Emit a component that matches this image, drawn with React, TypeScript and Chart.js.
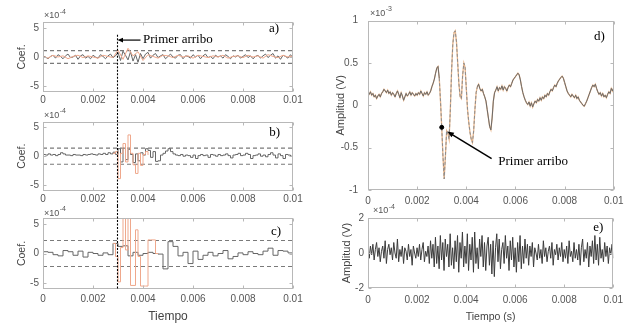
import React, { useEffect, useRef } from "react";
import { Chart, registerables } from "chart.js";
Chart.register(...registerables);

const SANS = '"Liberation Sans", Arial, sans-serif';
const SERIF = '"Liberation Serif", "Times New Roman", serif';
const TICK_COLOR = "#555555";
const BOX_COLOR = "#b8b8b8";
const ORANGE = "#efa88c";
const DARK = "#666666";
const THRESH_COLOR = "#7a7a7a";

const T_END = 0.01;
const X_TICKS = [0, 0.002, 0.004, 0.006, 0.008, 0.01];
const COEF_TICKS = [-5, 0, 5];
const AMP_D_TICKS = [-1, -0.5, 0, 0.5, 1];
const AMP_E_TICKS = [-2, 0, 2];
const ARRIVAL_T = 0.00294;
const ARRIVAL_LABEL = "Primer arribo";

// a) coefficients (x1e-4)
const A_DT = 0.0001;
const A_BLACK = [0.2, 0.0, -0.3, 0.1, 0.3, -0.2, 0.4, 0.1, -0.3, 0.2, 0.5, -0.1, 0.0, 0.3, -0.4, 0.2, 0.4, -0.2, 0.1, -0.3, 0.3, 0.0, -0.2, 0.4, 0.1, -0.3, 0.2, 0.5, -0.1, 0.2, 0.8, -0.6, 1.0, 0.3, -0.5, 0.9, -0.7, 0.4, -0.9, 0.6, -0.3, 0.5, 0.8, -0.2, 0.3, 0.6, -0.1, 0.2, 0.4, -0.3, 0.1, 0.5, 0.0, -0.2, 0.3, 0.4, -0.3, 0.2, 0.1, -0.2, 0.4, 0.0, 0.3, -0.3, 0.2, 0.5, -0.1, 0.1, -0.3, 0.3, 0.0, 0.2, -0.2, 0.4, 0.1, -0.3, 0.2, 0.0, 0.3, -0.2, 0.1, 0.4, -0.1, 0.2, -0.3, 0.1, 0.3, -0.2, 0.2, 0.5, -0.1, 0.3, 0.6, -0.2, 0.2, -0.4, 0.3, 0.1, -0.2, 0.4, -0.1];
const A_ORANGE_DT = 0.0002;
const A_ORANGE = [0.1, -0.2, 0.3, 0.0, 0.2, -0.3, 0.1, 0.3, -0.1, 0.2, 0.0, -0.2, 0.3, 0.1, -0.1, 1.2, -0.4, 1.5, 0.2, 0.9, -0.6, 0.4, 0.1, -0.2, 0.3, 0.2, -0.1, 0.3, 0.0, 0.2, -0.2, 0.3, 0.1, -0.1, 0.2, 0.0, 0.3, -0.2, 0.1, 0.2, -0.1, 0.3, 0.0, 0.2, -0.2, 0.4, 0.1, -0.1, 0.3, 0.0, 0.2];
const A_THRESHOLD = 1.1;

// b) coefficients (x1e-4)
const B_DT = 0.0001;
const B_BLACK = [0.3, 0.2, 0.4, 0.2, 0.3, 0.1, 0.3, 0.6, 0.4, 0.2, 0.2, 0.1, 0.3, 0.2, 0.2, 0.1, 0.3, 0.2, 0.3, 0.4, 0.3, 0.2, 0.4, 0.3, 0.5, 0.3, 0.6, 0.4, 0.7, 0.3, 1.3, -1.0, 1.4, -0.6, 1.2, 0.3, -1.1, 0.4, -0.8, 0.6, 0.2, 1.3, 1.0, -0.2, 0.8, -0.9, -0.8, 0.2, 0.5, 0.9, 1.3, 0.8, 0.4, 0.2, 0.1, 0.3, 0.0, 0.2, 0.1, -0.2, 0.2, -0.4, 0.1, 0.3, 0.1, 0.2, -0.2, 0.3, 0.2, 0.0, 0.3, 0.1, 0.2, 0.4, 0.1, -0.3, 0.2, 0.3, 0.5, 0.1, 0.2, 0.5, 0.3, -0.4, 0.1, 0.2, 0.4, 0.0, 0.2, -0.1, 0.3, 0.6, 0.2, -0.3, 0.4, 0.1, -0.4, 0.3, 0.2, 0.0, 0.2];
const B_BURST_START = 0.0028;
const B_BURST_DT = 0.0001;
const B_ORANGE = [0.5, 0.8, -3.9, 0.5, 2.2, -1.0, 3.7, 0.5, -1.5, -3.0, 0.5, -1.6, 0.3, 0.8, 0.2];
const B_THRESHOLD = 1.4;

// c) coefficients (x1e-4)
const C_DT = 0.0002;
const C_BLACK = [0.3, 0.2, -0.2, -0.4, 0.5, 0.3, -0.3, 0.4, -0.6, 0.2, 0.0, -0.3, 0.1, -0.2, 1.7, 1.2, 1.3, -0.4, 0.2, -0.3, 0.0, 0.2, 0.0, -0.1, -2.6, 2.0, 1.2, -0.4, 0.2, -1.7, 0.4, -1.0, -0.3, 0.2, -0.4, 0.0, 0.5, -0.9, -0.5, 0.1, -0.2, 0.3, 0.0, -0.2, 0.4, 0.9, -0.3, 0.5, 0.4, 0.1, 0.0];
const C_BURST_START = 0.0028;
const C_BURST_DT = 0.0001;
const C_ORANGE = [1.7, -0.5, -4.8, 1.0, 6.5, 0.6, 6.5, -5.4, -5.4, 4.0, -0.5, -5.5, -5.5, -5.5, 2.3, 2.3, 2.3, 0.0, -0.1];
const C_THRESHOLD = 2.2;

// d) recorded signal (x1e-3 V)
const D_DT = 0.00005;
const D_SIGNAL = [
  0.15, 0.13, 0.16, 0.12, 0.14, 0.10, 0.12, 0.08, 0.11, 0.13,
  0.10, 0.14, 0.16, 0.19, 0.17, 0.15, 0.18, 0.14, 0.16, 0.12,
  0.15, 0.13, 0.10, 0.14, 0.17, 0.13, 0.09, 0.15, 0.11, 0.06,
  0.10, 0.14, 0.11, 0.13, 0.16, 0.12, 0.15, 0.13, 0.11, 0.14,
  0.12, 0.15, 0.13, 0.17, 0.14, 0.11, 0.15, 0.13, 0.16, 0.12,
  0.14, 0.17, 0.22, 0.26, 0.31, 0.38, 0.44, 0.46, 0.32, 0.05,
  -0.26, -0.60, -0.87, -0.60, -0.30, -0.33, -0.40, -0.05, 0.40, 0.72,
  0.86, 0.88, 0.75, 0.50, 0.25, 0.10, 0.08, 0.35, 0.50, 0.45,
  0.20, -0.05, -0.20, -0.32, -0.40, -0.44, -0.30, -0.05, 0.15, 0.22,
  0.25, 0.20, 0.17, 0.19, 0.14, 0.10, 0.05, -0.05, -0.15, -0.25,
  -0.29, -0.15, 0.05, 0.15, 0.18, 0.22, 0.17, 0.21, 0.19, 0.23,
  0.18, 0.22, 0.20, 0.17, 0.21, 0.24, 0.22, 0.26, 0.30, 0.32,
  0.34, 0.36, 0.38, 0.36, 0.30, 0.22, 0.15, 0.10, 0.06, 0.03,
  0.01, 0.04, -0.01, 0.03, -0.02, 0.02, 0.05, 0.03, 0.07, 0.05,
  0.09, 0.06, 0.10, 0.08, 0.12, 0.10, 0.14, 0.12, 0.16, 0.19,
  0.17, 0.21, 0.24, 0.22, 0.26, 0.29, 0.31, 0.33, 0.345, 0.32,
  0.27, 0.22, 0.17, 0.14, 0.12, 0.10, 0.13, 0.11, 0.09, 0.12,
  0.08, 0.10, 0.06, 0.04, 0.02, 0.00, -0.01, 0.02, 0.05, 0.09,
  0.13, 0.17, 0.21, 0.24, 0.22, 0.25, 0.20, 0.16, 0.13, 0.15,
  0.11, 0.14, 0.10, 0.12, 0.09, 0.13, 0.16, 0.14, 0.20, 0.17,
  0.21,
];
const D_PICK = [{ x: 0.003, y: -0.26 }];
const D_BURST_FROM = 0.0029;
const D_BURST_TO = 0.0045;

// e) noise (x1e-4 V)
const E_DT = 0.00005;
const E_NOISE = [
  0.1, -0.3, 0.4, -0.1, 0.5, -0.4, 0.2, 0.6, -0.2, 0.3, -0.5, 0.1, 0.4, -0.3, 0.7, -0.6, 0.2, 0.5, -0.1, 0.3,
  -0.4, 0.6, 0.0, -0.3, 0.8, -0.5, 0.2, -0.2, 0.4, -0.6, 0.3, 0.1, -0.4, 0.5, -0.2, 0.2, -0.7, 0.4, 0.0, -0.3,
  0.3, -0.2, 0.5, -0.4, 0.2, 0.6, -0.5, 0.1, -0.2, 0.4, -0.6, 0.7, -0.3, 0.5, -0.8,
  0.9, -0.6, 0.4, -0.9, 1.0, -0.4, 0.6, -1.0, 0.8, -0.2, 0.5, -0.8, 1.1, -0.7, 0.3, -0.9, 0.7, -0.5, 1.0, -1.1, 0.6, -0.3, 1.2, -0.8, 0.4,
  -0.6, 1.1, -1.0, 0.5, -0.4, 0.9, -1.1, 1.2, -0.6, 0.3, -0.9, 0.8, -0.2, 1.0, -0.8, 0.6, -1.0, 0.4, 0.9, -0.7, 0.5, -1.2, 0.7, -1.35, 0.3,
  1.1, -0.5, 0.8, -0.9, 0.2, 0.6, -0.6, 1.0, -0.3, 0.4, -1.0, 0.7, -0.4, 0.9, -0.8, 0.3, -1.1, 0.6, -0.5, 1.0, -0.9, 0.4, -0.6, 0.8, -0.3, 0.5,
  -0.7, 0.4, -0.2, 0.6, -0.8, 0.3, 0.0, -0.4, 0.5, -0.3, 0.2, -0.6, 0.7, -0.2, 0.3, -0.5, 0.1, 0.4, -0.3, 0.6, -0.7, 0.2, -0.1, 0.5, -0.4, 0.3, -0.2, 0.6, -0.5, 0.2,
  -0.3, 0.4, -0.6, 0.7, -0.2, 0.1, -0.5, 0.6, -0.3, 0.2, -0.4, 0.5, -0.7, 0.3, 0.8, -0.5, 0.2, -0.3, 0.6, -0.8,
  0.4, -0.2, 0.7, -0.6, 1.0, -0.4, 0.5, -0.7, 0.9, -0.3, 0.2, -0.5, 0.6, -0.2, 0.4, -0.6, 0.3, -0.1, 0.5, -0.3,
];

const series = (vals: number[], t0: number, dt: number) => vals.map((y, i) => ({ x: t0 + i * dt, y }));
const hline = (y: number) => [{ x: 0, y }, { x: T_END, y }];
const fmtX = (v: any) => Number(v).toFixed(3).replace(/\.?0+$/, "");
const fmtY = (v: any) => String(Number(v));

const thresholdSets = (th: number) => [th, -th].map((y) => ({
  data: hline(y), borderColor: THRESH_COLOR, borderWidth: 1.2, borderDash: [4, 3], pointRadius: 0,
}));

function drawArrow(ctx: CanvasRenderingContext2D, x1: number, y1: number, x2: number, y2: number, head: number, lw: number) {
  const ang = Math.atan2(y2 - y1, x2 - x1);
  ctx.save();
  ctx.strokeStyle = "#000"; ctx.fillStyle = "#000"; ctx.lineWidth = lw; ctx.setLineDash([]);
  ctx.beginPath();
  ctx.moveTo(x1, y1);
  ctx.lineTo(x2 - Math.cos(ang) * head * 0.8, y2 - Math.sin(ang) * head * 0.8);
  ctx.stroke();
  ctx.beginPath();
  ctx.moveTo(x2, y2);
  ctx.lineTo(x2 - head * Math.cos(ang - 0.4), y2 - head * Math.sin(ang - 0.4));
  ctx.lineTo(x2 - head * Math.cos(ang + 0.4), y2 - head * Math.sin(ang + 0.4));
  ctx.closePath();
  ctx.fill();
  ctx.restore();
}

function arrivalLine(chart: any, yFrom: number, yTo: number) {
  const { ctx, scales } = chart;
  const x = Math.round(scales.x.getPixelForValue(ARRIVAL_T)) + 0.5;
  ctx.save();
  ctx.strokeStyle = "#000"; ctx.lineWidth = 1.1; ctx.setLineDash([2, 1.5]);
  ctx.beginPath(); ctx.moveTo(x, yFrom); ctx.lineTo(x, yTo); ctx.stroke();
  ctx.restore();
}

type Spec = {
  rect: { left: number; top: number; width: number; height: number };
  padTop: number; padRight: number; yWidth: number; xHeight: number;
  yMin: number; yMax: number; yTicks: number[]; yTickPad: number; xTickPad: number;
  yTitle: string; yTitleSize: number; yTitlePad: number;
  xTitle?: string; xTitleSize?: number; xTitlePad?: number;
  exponent: string; expDy: number; expDx: number;
  letter: string; letterDx: number; letterDy: number;
  datasets: any[];
  extra?: (chart: any) => void;
};

function buildConfig(p: Spec): any {
  const framePlugin = {
    id: "frame",
    afterDraw(chart: any) {
      const { ctx, chartArea: ca, scales } = chart;
      ctx.save();
      ctx.strokeStyle = BOX_COLOR; ctx.lineWidth = 1; ctx.setLineDash([]);
      const l = Math.round(ca.left) + 0.5, t = Math.round(ca.top) + 0.5;
      const r = Math.round(ca.right) - 0.5, b = Math.round(ca.bottom) - 0.5;
      ctx.strokeRect(l, t, r - l, b - t);
      ctx.beginPath();
      X_TICKS.forEach((v) => {
        const px = Math.round(scales.x.getPixelForValue(v)) + 0.5;
        ctx.moveTo(px, b); ctx.lineTo(px, b - 3);
        ctx.moveTo(px, t); ctx.lineTo(px, t + 3);
      });
      p.yTicks.forEach((v) => {
        const py = Math.round(scales.y.getPixelForValue(v)) + 0.5;
        ctx.moveTo(l, py); ctx.lineTo(l + 3, py);
        ctx.moveTo(r, py); ctx.lineTo(r - 3, py);
      });
      ctx.stroke();
      // exponent label
      ctx.fillStyle = TICK_COLOR; ctx.textBaseline = "middle"; ctx.textAlign = "left";
      ctx.font = `9px ${SANS}`;
      const ex = ca.left + p.expDx, ey = ca.top + p.expDy;
      ctx.fillText("\u00d710", ex, ey);
      const w = ctx.measureText("\u00d710").width;
      ctx.font = `7px ${SANS}`;
      ctx.fillText(p.exponent, ex + w + 0.5, ey - 4);
      // panel letter
      ctx.fillStyle = "#000"; ctx.font = `13px ${SERIF}`; ctx.textAlign = "right";
      ctx.fillText(p.letter, ca.right - p.letterDx, ca.top + p.letterDy);
      ctx.restore();
      if (p.extra) p.extra(chart);
    },
  };
  return {
    type: "line",
    data: { datasets: p.datasets },
    options: {
      animation: false, responsive: false, maintainAspectRatio: false, devicePixelRatio: 1,
      events: [],
      layout: { padding: { top: p.padTop, right: p.padRight, left: 0, bottom: 0 } },
      plugins: { legend: { display: false }, tooltip: { enabled: false }, title: { display: false } },
      elements: { point: { radius: 0 }, line: { tension: 0 } },
      scales: {
        x: {
          type: "linear", min: 0, max: T_END,
          afterBuildTicks: (s: any) => { s.ticks = X_TICKS.map((value) => ({ value })); },
          afterFit: (s: any) => { s.height = p.xHeight; },
          grid: { display: false, drawTicks: false, tickLength: 0 }, border: { display: false },
          ticks: { color: TICK_COLOR, font: { family: SANS, size: 10 }, padding: p.xTickPad, maxRotation: 0, autoSkip: false, callback: fmtX },
          title: p.xTitle
            ? { display: true, text: p.xTitle, color: "#444", font: { family: SANS, size: p.xTitleSize }, padding: { top: 0, bottom: p.xTitlePad } }
            : { display: false },
        },
        y: {
          type: "linear", min: p.yMin, max: p.yMax,
          afterBuildTicks: (s: any) => { s.ticks = p.yTicks.map((value) => ({ value })); },
          afterFit: (s: any) => { s.width = p.yWidth; },
          grid: { display: false, drawTicks: false, tickLength: 0 }, border: { display: false },
          ticks: { color: TICK_COLOR, font: { family: SANS, size: 10 }, padding: p.yTickPad, autoSkip: false, callback: fmtY },
          title: { display: true, text: p.yTitle, color: "#444", font: { family: SANS, size: p.yTitleSize }, padding: { top: p.yTitlePad, bottom: 0 } },
        },
      },
    },
    plugins: [framePlugin],
  };
}

// NOTE: in Chart.js the first dataset is painted last (on top).
const specA: Spec = {
  rect: { left: 0, top: 0, width: 320, height: 106 },
  padTop: 22, padRight: 27, yWidth: 43, xHeight: 14,
  yMin: -6, yMax: 6, yTicks: COEF_TICKS, yTickPad: 4, xTickPad: 2,
  yTitle: "Coef.", yTitleSize: 10.5, yTitlePad: 16,
  exponent: "-4", expDx: 1, expDy: -6,
  letter: "a)", letterDx: 14, letterDy: 6.5,
  datasets: [
    { data: series(A_ORANGE, 0, A_ORANGE_DT), borderColor: ORANGE, borderWidth: 1, pointRadius: 0 },
    { data: series(A_BLACK, 0, A_DT), borderColor: DARK, borderWidth: 1, pointRadius: 0 },
    ...thresholdSets(A_THRESHOLD),
  ],
  extra: (chart) => {
    const { ctx, scales } = chart;
    arrivalLine(chart, scales.y.getPixelForValue(3.8), chart.height);
    const y = scales.y.getPixelForValue(2.9);
    drawArrow(ctx, scales.x.getPixelForValue(0.0039), y, scales.x.getPixelForValue(0.00298), y, 6, 1.2);
    ctx.save();
    ctx.fillStyle = "#000"; ctx.font = `13px ${SERIF}`; ctx.textAlign = "left"; ctx.textBaseline = "middle";
    ctx.fillText(ARRIVAL_LABEL, scales.x.getPixelForValue(0.004), y - 1);
    ctx.restore();
  },
};

const specB: Spec = {
  rect: { left: 0, top: 106, width: 320, height: 100 },
  padTop: 15.7, padRight: 27, yWidth: 43, xHeight: 15.3,
  yMin: -6, yMax: 6, yTicks: COEF_TICKS, yTickPad: 4, xTickPad: 3,
  yTitle: "Coef.", yTitleSize: 10.5, yTitlePad: 16,
  exponent: "-4", expDx: 1, expDy: -6.5,
  letter: "b)", letterDx: 13, letterDy: 11,
  datasets: [
    { data: series(B_ORANGE, B_BURST_START, B_BURST_DT), borderColor: ORANGE, borderWidth: 1, pointRadius: 0, stepped: true },
    { data: series(B_BLACK, 0, B_DT), borderColor: DARK, borderWidth: 1, pointRadius: 0, stepped: true },
    ...thresholdSets(B_THRESHOLD),
  ],
  extra: (chart) => arrivalLine(chart, 0, chart.height),
};

const specC: Spec = {
  rect: { left: 0, top: 206, width: 320, height: 118 },
  padTop: 12, padRight: 27, yWidth: 43, xHeight: 35,
  yMin: -6, yMax: 6, yTicks: COEF_TICKS, yTickPad: 4, xTickPad: 4,
  yTitle: "Coef.", yTitleSize: 10.5, yTitlePad: 16,
  xTitle: "Tiempo", xTitleSize: 12, xTitlePad: 0,
  exponent: "-4", expDx: 1, expDy: -4.5,
  letter: "c)", letterDx: 12, letterDy: 13.5,
  datasets: [
    { data: series(C_ORANGE, C_BURST_START, C_BURST_DT), borderColor: ORANGE, borderWidth: 1, pointRadius: 0, stepped: true },
    { data: series(C_BLACK, 0, C_DT), borderColor: DARK, borderWidth: 1, pointRadius: 0, stepped: true },
    ...thresholdSets(C_THRESHOLD),
  ],
  extra: (chart) => arrivalLine(chart, 0, chart.chartArea.bottom),
};

const inBurst = (c: any) => c.p0.parsed.x >= D_BURST_FROM && c.p1.parsed.x <= D_BURST_TO;

const specD: Spec = {
  rect: { left: 320, top: 0, width: 309, height: 210 },
  padTop: 20.7, padRight: 12, yWidth: 48, xHeight: 20,
  yMin: -1, yMax: 1, yTicks: AMP_D_TICKS, yTickPad: 10, xTickPad: 5.5,
  yTitle: "Amplitud (V)", yTitleSize: 11, yTitlePad: 14.5,
  exponent: "-3", expDx: 2, expDy: -7.5,
  letter: "d)", letterDx: 9, letterDy: 16,
  datasets: [
    { data: D_PICK, showLine: false, pointRadius: 2, pointBackgroundColor: "#000", pointBorderColor: "#000" },
    {
      data: series(D_SIGNAL, 0, D_DT), borderColor: "#6a6a6a", borderWidth: 1, pointRadius: 0,
      segment: { borderDash: (c: any) => (inBurst(c) ? [3, 2] : undefined), borderColor: (c: any) => (inBurst(c) ? "#8c8c8c" : undefined) },
    },
    { data: series(D_SIGNAL, 0, D_DT), borderColor: "#e8b68c", borderWidth: 1.3, pointRadius: 0 },
  ],
  extra: (chart) => {
    const { ctx, scales } = chart;
    const X = (v: number) => scales.x.getPixelForValue(v);
    const Y = (v: number) => scales.y.getPixelForValue(v);
    drawArrow(ctx, X(0.00503), Y(-0.63), X(0.00323), Y(-0.31), 7, 1.5);
    ctx.save();
    ctx.fillStyle = "#000"; ctx.font = `13px ${SERIF}`; ctx.textAlign = "left"; ctx.textBaseline = "middle";
    ctx.fillText(ARRIVAL_LABEL, X(0.0053), Y(-0.67));
    ctx.restore();
  },
};

const specE: Spec = {
  rect: { left: 320, top: 202, width: 309, height: 122 },
  padTop: 16, padRight: 12, yWidth: 48, xHeight: 36,
  yMin: -2, yMax: 2, yTicks: AMP_E_TICKS, yTickPad: 4, xTickPad: 6,
  yTitle: "Amplitud (V)", yTitleSize: 11, yTitlePad: 20.5,
  xTitle: "Tiempo (s)", xTitleSize: 10.5, xTitlePad: 1,
  exponent: "-4", expDx: 5, expDy: -7,
  letter: "e)", letterDx: 10, letterDy: 10,
  datasets: [
    { data: series(E_NOISE, 0, E_DT), borderColor: "#3c3c3c", borderWidth: 1, pointRadius: 0 },
  ],
};

function Panel({ spec }: { spec: Spec }) {
  const ref = useRef<HTMLCanvasElement>(null);
  useEffect(() => {
    const chart = new Chart(ref.current as HTMLCanvasElement, buildConfig(spec));
    return () => chart.destroy();
  }, [spec]);
  const r = spec.rect;
  return (
    <canvas
      ref={ref}
      width={r.width}
      height={r.height}
      style={{ position: "absolute", left: r.left, top: r.top, width: r.width, height: r.height }}
    />
  );
}

export default function App() {
  return (
    <div style={{ position: "absolute", left: 0, top: 0, width: 629, height: 324, background: "#fff", overflow: "hidden" }}>
      {[specA, specB, specC, specD, specE].map((s, i) => (
        <Panel key={i} spec={s} />
      ))}
    </div>
  );
}
